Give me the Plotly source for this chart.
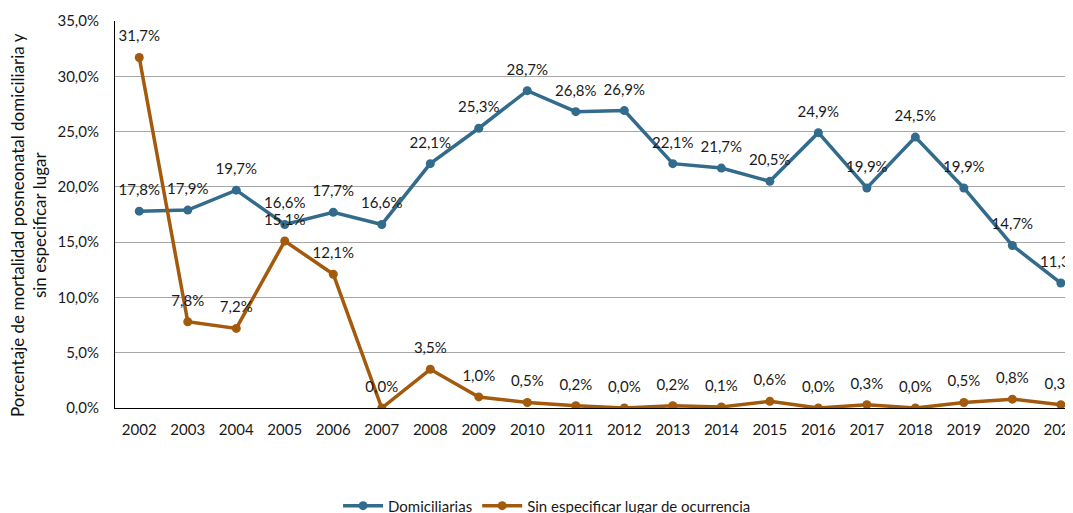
import plotly.graph_objects as go

years = [str(y) for y in range(2002, 2022)]
domiciliarias = [17.8, 17.9, 19.7, 16.6, 17.7, 16.6, 22.1, 25.3, 28.7, 26.8,
                 26.9, 22.1, 21.7, 20.5, 24.9, 19.9, 24.5, 19.9, 14.7, 11.3]
sin_especificar = [31.7, 7.8, 7.2, 15.1, 12.1, 0.0, 3.5, 1.0, 0.5, 0.2,
                   0.0, 0.2, 0.1, 0.6, 0.0, 0.3, 0.0, 0.5, 0.8, 0.3]
y_ticks = [0, 5, 10, 15, 20, 25, 30, 35]

BLUE = "#336B8C"
BROWN = "#A35A0C"
FONT = "Lato, 'Open Sans', sans-serif"
TXT = "#1a1a1a"

def pct(v):
    return f"{v:.1f}%".replace(".", ",")

series = [("Domiciliarias", domiciliarias, BLUE),
          ("Sin especificar lugar de ocurrencia", sin_especificar, BROWN)]

fig = go.Figure()
for name, vals, col in series:
    fig.add_trace(go.Scatter(
        x=years, y=vals, name=name, mode="lines+markers",
        line=dict(color=col, width=3.5), marker=dict(color=col, size=9),
    ))
for name, vals, col in series:
    fig.add_trace(go.Scatter(
        x=years, y=vals, name=name, mode="markers+text", showlegend=False,
        text=[pct(v) for v in vals], textposition="top center", cliponaxis=False,
        textfont=dict(family=FONT, size=15, color=TXT),
        marker=dict(color=col, size=18, opacity=0), hoverinfo="skip",
    ))

fig.add_annotation(
    text="Porcentaje de mortalidad posneonatal domiciliaria y<br>sin especificar lugar",
    xref="paper", yref="paper", x=-0.0898, y=0.473, xanchor="center", yanchor="middle",
    textangle=-90, showarrow=False,
    font=dict(family=FONT, size=17, color="#111111"),
)

fig.update_layout(
    width=1065, height=505,
    margin=dict(l=107, r=0, t=13, b=105, autoexpand=False),
    paper_bgcolor="white", plot_bgcolor="white",
    font=dict(family=FONT, size=15, color=TXT),
    showlegend=True,
    legend=dict(orientation="h", x=0.451, xanchor="center", y=-0.253, yanchor="middle",
                font=dict(family=FONT, size=15, color=TXT),
                itemwidth=40, traceorder="normal"),
    xaxis=dict(type="category", range=[-0.5, 19.25], showgrid=False, automargin=False,
               showline=True, linecolor="black", linewidth=1,
               ticks="", tickfont=dict(family=FONT, size=15, color=TXT),
               ticklabelstandoff=8),
    yaxis=dict(range=[0, 35], tickvals=y_ticks, ticktext=[pct(v) for v in y_ticks],
               showgrid=True, gridcolor="#A6A6A6", gridwidth=1, automargin=False,
               showline=True, linecolor="black", linewidth=1, zeroline=False,
               ticks="", tickfont=dict(family=FONT, size=15, color=TXT),
               ticklabelstandoff=12),
)

fig.write_html("out.html")
